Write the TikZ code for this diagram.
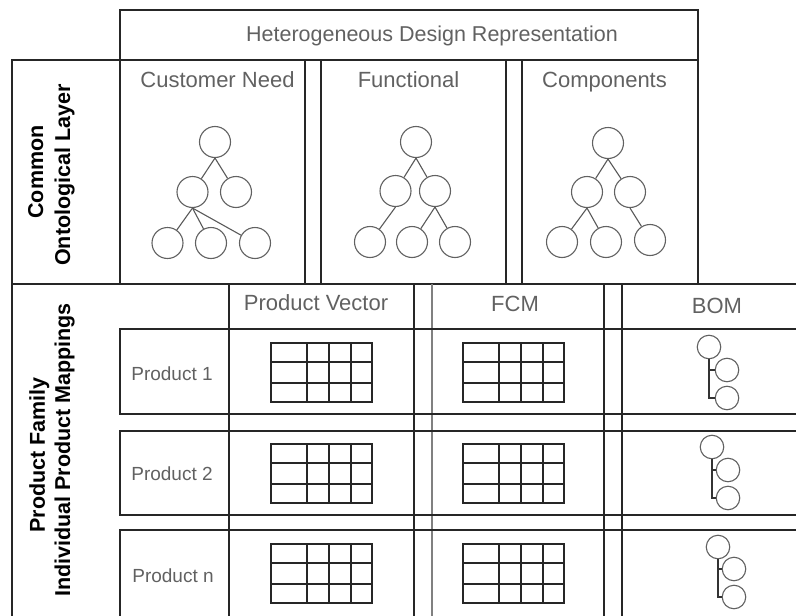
\documentclass[tikz,border=0pt]{standalone}
\usepackage{fontspec}
\setmainfont{Liberation Sans}
\begin{document}
\begin{tikzpicture}[x=1pt,y=-1pt,
  frame/.style={draw=black!85,line width=1.3pt},
  faintframe/.style={draw=black!50,line width=1.3pt},
  gridline/.style={draw=black!85,line width=1.2pt},
  treenode/.style={circle,draw=black!62,line width=1.1pt,minimum size=31pt,inner sep=0pt},
  bomnode/.style={circle,draw=black!62,line width=1.1pt,minimum size=23.5pt,inner sep=0pt},
  treeedge/.style={draw=black!65,line width=1.1pt},
  bomedge/.style={draw=black!80,line width=1.1pt},
  title/.style={text=black!62,font=\fontsize{22}{26}\selectfont,anchor=base,inner sep=0pt},
  rowlabel/.style={text=black!62,font=\fontsize{19}{23}\selectfont,anchor=base,inner sep=0pt},
  sidelabel/.style={font=\fontsize{21.5}{26}\selectfont\bfseries,rotate=90,anchor=base,inner sep=0pt}]

\useasboundingbox (0,0) rectangle (796,616);
\clip (0,0) rectangle (796,616);

% ---------- common ontological layer ----------
\draw[frame] (120,10) rectangle (698,60);
\draw[frame] (12,60) rectangle (698,284);
\draw[frame] (120,60) rectangle (305,284);
\draw[frame] (321,60) rectangle (506,284);
\draw[frame] (522,60) rectangle (698,284);

\node[title,font=\fontsize{21.5}{26}\selectfont] (hdr) at (432,41) {Heterogeneous Design Representation};
\node[title] (cn) at (217.5,87) {Customer Need};
\node[title] (fn) at (408.5,87) {Functional};
\node[title] (cp) at (604.5,87) {Components};

\node[sidelabel] (ol1) at (43,172) {Common};
\node[sidelabel] (ol2) at (70,175) {Ontological Layer};

% customer need tree
\node[treenode] (at)  at (215,142) {};
\node[treenode] (aml) at (192.5,192) {};
\node[treenode] (amr) at (236,192) {};
\node[treenode] (abl) at (167.5,243) {};
\node[treenode] (abm) at (211,243) {};
\node[treenode] (abr) at (255,243) {};
\draw[treeedge] (at.south) -- (aml);
\draw[treeedge] (at.south) -- (amr);
\draw[treeedge] (aml.south) -- (abl);
\draw[treeedge] (aml.south) -- (abm);
\draw[treeedge] (aml.south) -- (abr);

% functional tree
\node[treenode] (bt)  at (416,142) {};
\node[treenode] (bml) at (395.5,191) {};
\node[treenode] (bmr) at (435,191) {};
\node[treenode] (bbl) at (370,242) {};
\node[treenode] (bbm) at (412,242) {};
\node[treenode] (bbr) at (455,242) {};
\draw[treeedge] (bt.south) -- (bml);
\draw[treeedge] (bt.south) -- (bmr);
\draw[treeedge] (bml.south) -- (bbl);
\draw[treeedge] (bmr.south) -- (bbm);
\draw[treeedge] (bmr.south) -- (bbr);

% components tree
\node[treenode] (ct)  at (608,143) {};
\node[treenode] (cml) at (587,192) {};
\node[treenode] (cmr) at (630,192) {};
\node[treenode] (cbl) at (562,242) {};
\node[treenode] (cbm) at (606,242) {};
\node[treenode] (cbr) at (650,240) {};
\draw[treeedge] (ct.south) -- (cml);
\draw[treeedge] (ct.south) -- (cmr);
\draw[treeedge] (cml.south) -- (cbl);
\draw[treeedge] (cml.south) -- (cbm);
\draw[treeedge] (cmr.south) -- (cbr);

% ---------- individual product mappings ----------
\draw[frame] (12,284) rectangle (830,640);
\draw[frame] (229,284) rectangle (414,640);
\draw[faintframe] (432,284) -- (432,640);
\draw[frame] (604,284) -- (604,640);
\draw[frame] (622,284) -- (622,640);
\foreach \t/\b in {329/414,431/515,530/640}
  \draw[frame] (120,\t) rectangle (830,\b);

\node[sidelabel] (pf1) at (45,455) {Product Family};
\node[sidelabel] (pf2) at (70,450) {Individual Product Mappings};

\node[title] (pv)  at (316,310) {Product Vector};
\node[title] (fcm) at (515,311) {FCM};
\node[title] (bom) at (717,313) {BOM};

\node[rowlabel] (p1) at (172,380) {Product 1};
\node[rowlabel] (p2) at (172,480) {Product 2};
\node[rowlabel] (pn) at (173,582) {Product n};

% matrices
\foreach \gx in {271,463}
  \foreach \gy in {343,444,544} {
    \draw[gridline] (\gx,\gy) rectangle ++(101,59);
    \foreach \dx in {36,58,80}
      \draw[gridline] (\gx+\dx,\gy) -- ++(0,59);
    \foreach \dy in {19,40}
      \draw[gridline] (\gx,\gy+\dy) -- ++(101,0);
  }

% bills of materials
\foreach \r/\ax/\ay/\bx/\by/\cy in {1/709/347/727/370/398, 2/712/447/728/470/498, 3/718/547/734/569/597} {
  \node[bomnode] (r\r a) at (\ax,\ay) {};
  \node[bomnode] (r\r b) at (\bx,\by) {};
  \node[bomnode] (r\r c) at (\bx,\cy) {};
  \draw[bomedge] (r\r a.south) |- (r\r c.west);
  \draw[bomedge] (r\r a.south |- r\r b.west) -- (r\r b.west);
}
\end{tikzpicture}
\end{document}
